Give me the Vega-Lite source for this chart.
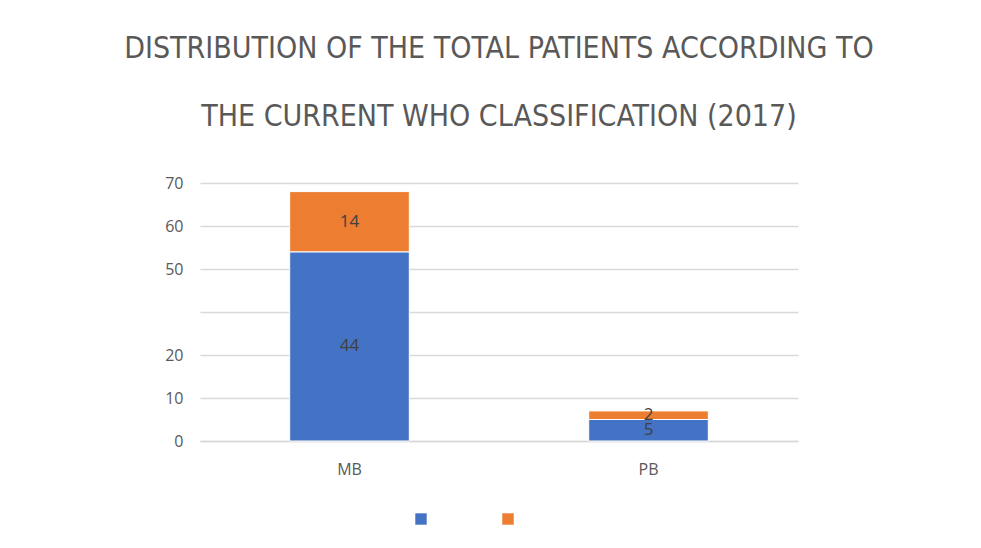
{
  "$schema": "https://vega.github.io/schema/vega-lite/v6.json",
  "width": 598,
  "height": 258,
  "autosize": {"type": "none"},
  "padding": {"left": 200, "top": 183, "right": 183, "bottom": 107},
  "background": "white",
  "config": {"view": {"stroke": null}, "font": "Open Sans"},
  "title": {
    "text": ["DISTRIBUTION OF THE TOTAL PATIENTS ACCORDING TO", "THE CURRENT WHO CLASSIFICATION (2017)"],
    "font": "DejaVu Sans Condensed, Roboto",
    "fontSize": 30,
    "fontWeight": "normal",
    "color": "#595959",
    "lineHeight": 68,
    "anchor": "middle",
    "offset": 43
  },
  "data": {
    "values": [
      {"cls": "MB", "series": "Series1", "order": 1, "value": 44},
      {"cls": "MB", "series": "Series2", "order": 2, "value": 14},
      {"cls": "PB", "series": "Series1", "order": 1, "value": 5},
      {"cls": "PB", "series": "Series2", "order": 2, "value": 2}
    ]
  },
  "transform": [
    {"stack": "value", "groupby": ["cls"], "sort": [{"field": "order", "order": "ascending"}], "as": ["v0", "v1"]},
    {"calculate": "(datum.v0 + datum.v1) / 2", "as": "mid"}
  ],
  "encoding": {
    "x": {
      "field": "cls", "type": "nominal", "title": null,
      "scale": {"paddingInner": 0.6, "paddingOuter": 0.3},
      "axis": {"labelAngle": 0, "labelFontSize": 16, "labelColor": "#595959", "labelPadding": 20, "ticks": false, "domainColor": "#d9d9d9", "domainWidth": 1.5, "labelFont": "Open Sans"}
    }
  },
  "layer": [
    {
      "mark": {"type": "bar", "stroke": "white", "strokeWidth": 1},
      "encoding": {
        "y": {
          "field": "v1", "type": "quantitative", "title": null,
          "scale": {"domain": [0, 60], "nice": false},
          "axis": {
            "values": [0, 10, 20, 30, 40, 50, 60],
            "labelExpr": "datum.value == 60 ? '70' : datum.value == 50 ? '60' : datum.value == 40 ? '50' : datum.value == 30 ? '' : datum.label",
            "domain": false, "ticks": false, "labelPadding": 17, "labelFontSize": 16, "labelColor": "#595959", "labelFont": "Open Sans",
            "gridColor": "#d9d9d9", "gridWidth": 1.5
          }
        },
        "y2": {"field": "v0"},
        "color": {
          "field": "series", "type": "nominal",
          "scale": {"domain": ["Series1", "Series2"], "range": ["#4472C4", "#ED7D31"]},
          "legend": {
            "orient": "none", "legendX": 213, "legendY": 328, "direction": "horizontal", "title": null,
            "symbolType": "square", "symbolSize": 130, "symbolStrokeWidth": 0,
            "labelColor": "white", "labelFontSize": 16, "labelOffset": 6, "columnPadding": 10
          }
        }
      }
    },
    {
      "mark": {"type": "text", "fontSize": 17, "color": "#404040", "font": "Open Sans"},
      "encoding": {
        "y": {"field": "mid", "type": "quantitative"},
        "text": {"field": "value", "type": "quantitative"}
      }
    }
  ]
}
